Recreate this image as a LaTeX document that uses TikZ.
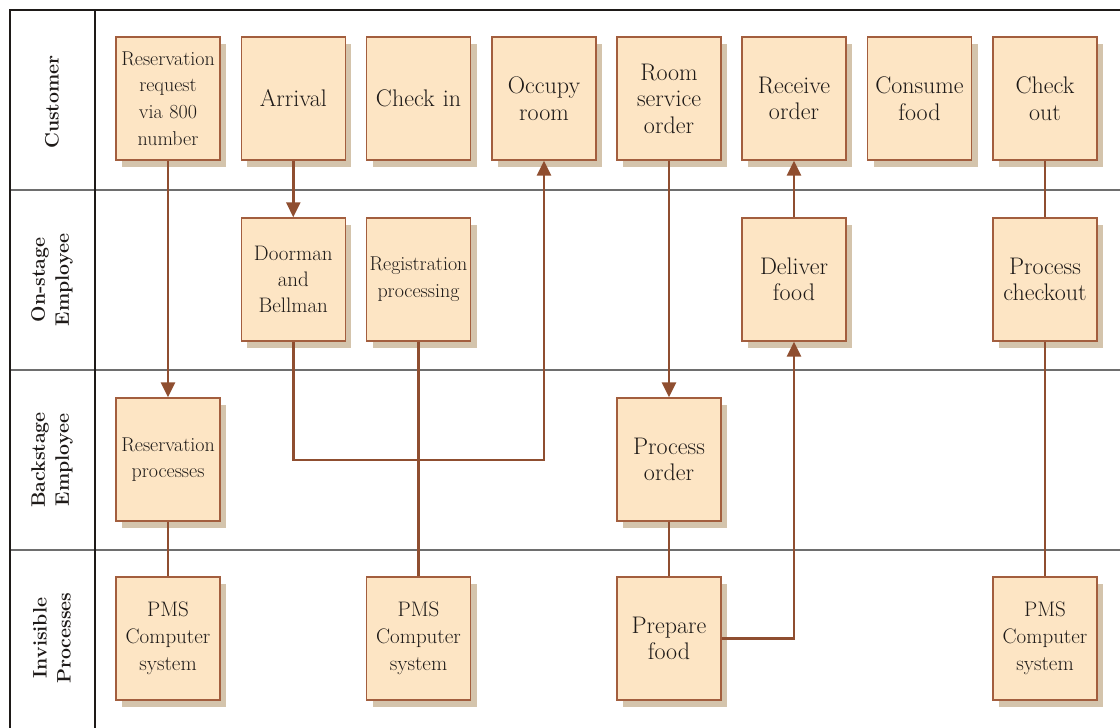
\documentclass[tikz,border=0pt]{standalone}
\usepackage{fontspec}
\usetikzlibrary{arrows.meta,shadows}
\definecolor{boxfill}{RGB}{253,229,196}
\definecolor{boxline}{RGB}{163,94,62}
\definecolor{shade}{RGB}{212,196,172}
\definecolor{flow}{RGB}{143,78,48}
\definecolor{ink}{RGB}{30,26,24}
\definecolor{lane}{RGB}{110,110,110}
\tikzset{
  stepbox/.style={draw=boxline, line width=1.4pt, fill=boxfill,
    minimum width=104pt, minimum height=123pt, inner sep=0pt,
    text width=102pt, align=center, text=ink,
    font=\fontsize{24}{26.5}\selectfont,
    drop shadow={shadow xshift=6pt, shadow yshift=-7pt, fill=shade, opacity=1, draw=none}},
  smalltxt/.style={font=\fontsize{20}{26.7}\selectfont},
  pmstxt/.style={font=\fontsize{21}{27}\selectfont},
  midtxt/.style={font=\fontsize{21}{26}\selectfont},
  lanelabel/.style={rotate=90, align=center, text=ink,
    font=\bfseries\fontsize{19.5}{24}\selectfont},
  flowline/.style={draw=flow, line width=2.6pt},
  arr/.style={flowline, -{Triangle[length=15pt,width=14pt]}},
}
\begin{document}
\begin{tikzpicture}[x=1pt,y=-1pt]
\useasboundingbox (0,0) rectangle (1120,728);

% swimlane frame
\draw[lane, line width=1.3pt] (10,190) -- (1120,190) (10,370) -- (1120,370) (10,550) -- (1120,550);
\draw[ink, line width=1.4pt] (1120,10) -- (10,10) -- (10,728);
\draw[ink, line width=1.4pt] (95,10) -- (95,728);

% lane labels
\node[lanelabel] (l1) at (52,102) {Customer};
\node[lanelabel] (l2) at (52,280) {On-stage\\Employee};
\node[lanelabel] (l3) at (52,460) {Backstage\\Employee};
\node[lanelabel] (l4) at (52,638) {Invisible\\Processes};

% customer actions
\node[stepbox, smalltxt] (rr)  at (168,98.5)   {Reservation\\request\\via 800\\number};
\node[stepbox] (arv) at (293.3,98.5) {Arrival};
\node[stepbox] (ci)  at (418.5,98.5) {Check in};
\node[stepbox] (occ) at (544,98.5)   {Occupy\\room};
\node[stepbox] (rso) at (669,98.5)   {Room\\service\\order};
\node[stepbox] (ro)  at (794,98.5)   {Receive\\order};
\node[stepbox] (cf)  at (919.5,98.5) {Consume\\food};
\node[stepbox] (co)  at (1045,98.5)  {Check\\out};

% on-stage employee actions
\node[stepbox, midtxt] (db)  at (293.3,279.5) {Doorman\\and\\Bellman};
\node[stepbox, smalltxt] (rp) at (418.5,279.5) {Registration\\processing};
\node[stepbox] (df)  at (794,279.5)   {Deliver\\food};
\node[stepbox] (pc)  at (1045,279.5)  {Process\\checkout};

% backstage employee actions
\node[stepbox, smalltxt] (rsp) at (168,459.5) {Reservation\\processes};
\node[stepbox] (po)  at (669,459.5) {Process\\order};

% invisible processes
\node[stepbox, pmstxt] (pms1) at (168,638.5)  {PMS\\Computer\\system};
\node[stepbox, pmstxt] (pms2) at (418.5,638.5) {PMS\\Computer\\system};
\node[stepbox] (pf)  at (669,638.5) {Prepare\\food};
\node[stepbox, pmstxt] (pms3) at (1045,638.5) {PMS\\Computer\\system};

% flows
\draw[arr] (rr.south) -- (rsp.north);
\draw[flowline] (rsp.south) -- (pms1.north);
\draw[arr] (arv.south) -- (db.north);
\draw[arr] (db.south) -- (db.south |- 0,460) -| (occ.south);
\draw[flowline] (rp.south) -- (pms2.north);
\draw[arr] (rso.south) -- (po.north);
\draw[flowline] (po.south) -- (pf.north);
\draw[arr] (pf.east) -| (df.south);
\draw[arr] (df.north) -- (ro.south);
\draw[flowline] (co.south) -- (pc.north);
\draw[flowline] (pc.south) -- (pms3.north);
\end{tikzpicture}
\end{document}
